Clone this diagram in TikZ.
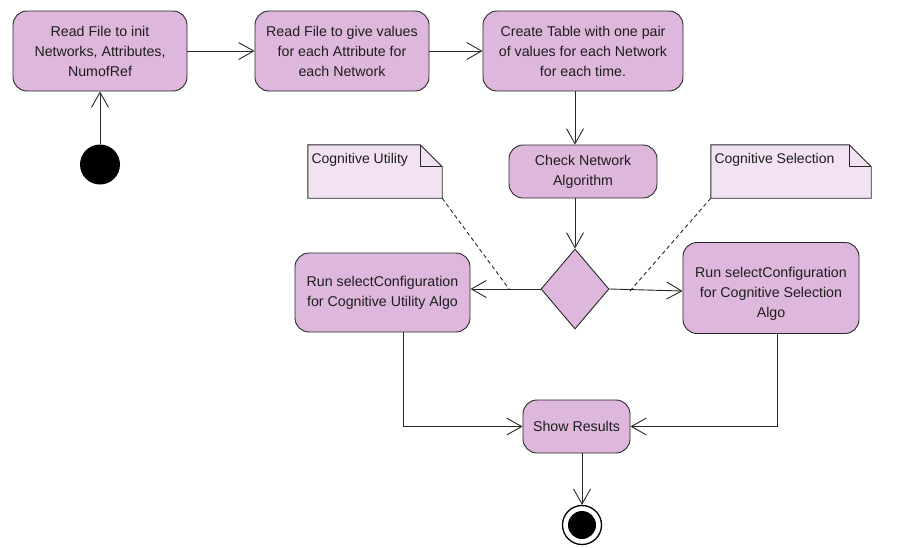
\documentclass[tikz,border=0pt]{standalone}
\usepackage{fontspec}
\setmainfont{Liberation Sans}
\usetikzlibrary{arrows.meta,shapes.geometric,calc}
\definecolor{actfill}{RGB}{221,183,220}
\definecolor{notefill}{RGB}{242,226,242}
\definecolor{edgecol}{RGB}{40,40,40}
\definecolor{txtcol}{RGB}{30,30,30}
\begin{document}
\begin{tikzpicture}[x=1pt,y=-1pt,
  action/.style={draw=edgecol, fill=actfill, rounded corners=14pt, line width=0.9pt,
    align=center, inner sep=0pt, text=txtcol, font=\fontsize{14.2}{20}\selectfont},
  actiontext/.style={align=center, inner sep=0pt, text=txtcol, font=\fontsize{14.2}{20}\selectfont},
  decision/.style={diamond, draw=edgecol, fill=actfill, line width=0.9pt, inner sep=0pt,
    minimum width=68pt, minimum height=80pt},
  notearea/.style={inner sep=0pt, minimum width=#1, minimum height=53pt},
  noteline/.style={draw=edgecol, fill=notefill, line width=0.9pt},
  notetext/.style={anchor=base west, inner sep=0pt, text=txtcol, font=\fontsize{14}{18}\selectfont},
  flow/.style={draw=edgecol, line width=0.9pt, -{Straight Barb[length=15pt,width=17pt,line width=0.9pt]}},
  anchorline/.style={draw=edgecol, line width=0.9pt, dash pattern=on 4pt off 3pt},
  initial/.style={circle, fill=black, inner sep=0pt, minimum size=40pt},
  final/.style={circle, draw=black, fill=white, line width=1.3pt, inner sep=0pt, minimum size=39pt}]
\useasboundingbox (0,0) rectangle (908,547);
\fill[white] (0,0) rectangle (908,547);

% activities
\node[action, minimum width=174pt, minimum height=80pt] (b1) at (100,51)
  {Read File to init\\Networks, Attributes,\\NumofRef};
\node[action, minimum width=174pt, minimum height=80pt] (b2) at (342,51)
  {Read File to give values\\for each Attribute for\\each Network};
\node[action, minimum width=200pt, minimum height=80pt] (b3) at (583,51)
  {Create Table with one pair\\of values for each Network\\for each time.};
\node[action, minimum width=148pt, minimum height=53pt] (chk) at (583,171.5)
  {Check Network\\Algorithm};
\node[decision] (dec) at (575,289) {};
\node[action, minimum width=175pt, minimum height=79pt] (lb) at (382.5,292.5)
  {Run selectConfiguration\\for Cognitive Utility Algo};
\node[action, minimum width=176pt, minimum height=91pt] (rb) at (771,288) {};
\node[actiontext] (rbtext) at ($(rb.center)+(0,5.5)$)
  {Run selectConfiguration\\for Cognitive Selection\\Algo};
\node[action, minimum width=107pt, minimum height=53pt] (sr) at (576.5,426.5)
  {Show Results};

% start and end
\node[initial] (start) at (100,164.5) {};
\node[final] (fin) at (582,525) {};
\fill[black] (fin.center) circle (14pt);

% notes with folded corner
\node[notearea=134pt] (nu) at (375,171.5) {};
\node[notearea=160pt] (ns) at (791,171.5) {};
\foreach \n in {nu,ns}{
  \path[noteline] (\n.north west) -- ($(\n.north east)+(-22,0)$) -- ($(\n.north east)+(0,22)$)
    -- (\n.south east) -- (\n.south west) -- cycle;
  \draw[draw=edgecol, line width=0.9pt] ($(\n.north east)+(-22,0)$) |- ($(\n.north east)+(0,22)$);
}
\node[notetext] at ($(nu.north west)+(3.5,19)$) {Cognitive Utility};
\node[notetext] at ($(ns.north west)+(3.5,19)$) {Cognitive Selection};

% control flow
\draw[flow] (start) -- (b1);
\draw[flow] (b1) -- (b2);
\draw[flow] (b2) -- (b3);
\draw[flow] (b3.south -| dec.north) -- (chk.north -| dec.north);
\draw[flow] (chk.south -| dec.north) -- (dec.north);
\draw[flow] (dec.west) -- (lb.east |- dec.west);
\draw[flow] (dec.east) -- ($(rb.west |- dec.east)+(0,2)$);
\draw[flow] ($(lb.south)+(20.5,0)$) |- (sr.west);
\draw[flow] ($(rb.south)+(6,0)$) |- (sr.east);
\draw[flow] (sr.south -| fin.north) -- (fin.north);

% note anchors
\coordinate (ua) at (509,289);
\coordinate (sa) at (630,291);
\draw[anchorline] (nu.south east) -- (ua);
\draw[anchorline] (ns.south west) -- (sa);
\end{tikzpicture}
\end{document}
